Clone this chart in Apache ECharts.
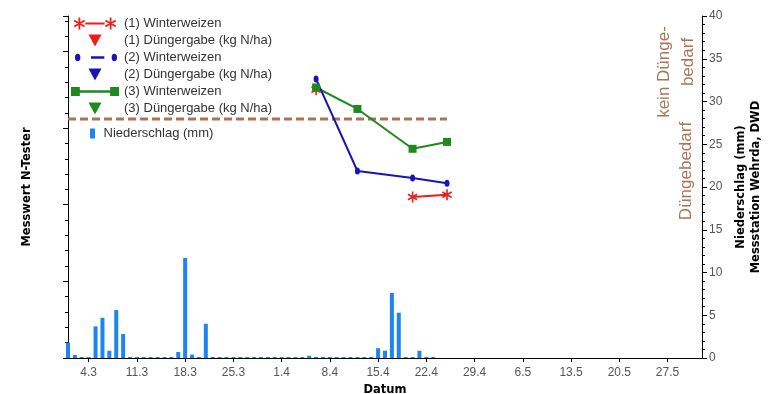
<!DOCTYPE html>
<html>
<head>
<meta charset="utf-8">
<script src="https://cdn.jsdelivr.net/npm/echarts@6/dist/echarts.min.js"></script>
<style>
  html, body { margin: 0; padding: 0; background: #fff; }
  #main { width: 773px; height: 394px; }
</style>
</head>
<body>
<div id="main"></div>
<script>
// Kategorien: jeder Tag vom 1.3. bis 1.6.
const monate = [[3, 31], [4, 30], [5, 31], [6, 1]];
const datum = [];
monate.forEach(([m, n]) => {
  for (let d = 1; d <= n; d++) datum.push(d + "." + m);
});

// Niederschlag (mm), täglich ab 1.3.
const niederschlag = [
  1.8, 0.35, 0, 0, 3.7, 4.7, 0.85, 5.6, 2.8, 0,
  0, 0, 0, 0, 0, 0, 0.7, 11.7, 0.4, 0,
  4.0, 0, 0, 0, 0, 0, 0, 0, 0, 0,
  0, 0, 0, 0, 0, 0.27, 0, 0, 0, 0,
  0, 0, 0, 0, 0, 1.15, 0.85, 7.6, 5.3, 0,
  0, 0.85, 0, 0
];

// Messtermine N-Tester
const termine = ["6.4", "12.4", "20.4", "25.4"];
const weizen1 = [350, "-", 210, 213];
const weizen2 = [364, 244, 235, 228];
const weizen3 = [353, 325, 273, 282];

// Schwellenwert Düngebedarf
const schwelle = 312;
const schwelleVon = "1.3";
const schwelleBis = "25.4";

const ROT = "#ee1c1c";
const BLAU = "#1616b8";
const GRUEN = "#1e8a1e";
const REGEN = "#1b86ef";
const BRAUN = "#a87656";

// asterisk as filled path
function stern(cx, cy) {
  const pts = [
    [[-0.75, -5], [0.75, -5], [0.75, 5], [-0.75, 5]],
    [[3.955, -3.15], [4.705, -1.85], [-3.955, 3.15], [-4.705, 1.85]],
    [[-4.705, -1.85], [-3.955, -3.15], [4.705, 1.85], [3.955, 3.15]]
  ];
  return pts.map(r => "M" + r.map(p => (p[0] + cx).toFixed(3) + "," + (p[1] + cy).toFixed(3)).join("L") + "Z").join(" ");
}

const iconW1 = "path://" + stern(5, 5) + " M10,4.2h16v1.6h-16z " + stern(31, 5);
const iconW2 = "path://M3,3a2,2.8 0 1,0 4,0a2,2.8 0 1,0 -4,0z M15,2.1h10v1.8h-10z M30.5,3a2,2.8 0 1,0 4,0a2,2.8 0 1,0 -4,0z M0,0h0.01v6h-0.01z M35.99,0h0.01v6h-0.01z";
const iconW3 = "path://M0,0h7v7h-7z M7,2.5h24v2h-24z M31,0h7v7h-7z";
const iconD = "path://M0,0L13,0L6.5,12Z";
const iconN = "path://M0,0h5v10h-5z";

const chart = echarts.init(document.getElementById("main"));

const achsenFont = { fontFamily: "DejaVu Sans", fontWeight: "bold", fontSize: 11.5, color: "#000" };

const option = {
  animation: false,
  backgroundColor: "#fff",
  grid: { left: 68, right: 71, top: 16, bottom: 36, outerBoundsMode: "none", containLabel: false },
  legend: [
    {
      orient: "vertical",
      left: 71,
      top: 17,
      padding: 0,
      itemWidth: 48,
      itemHeight: 12,
      itemGap: 4,
      selectedMode: false,
      itemStyle: { borderWidth: 0, opacity: 1 },
      textStyle: { fontFamily: "Liberation Sans", fontSize: 13, color: "#333" },
      data: [
        { name: "(1) Winterweizen", icon: iconW1 },
        { name: "(1) Düngergabe (kg N/ha)", icon: iconD },
        { name: "(2) Winterweizen", icon: iconW2 },
        { name: "(2) Düngergabe (kg N/ha)", icon: iconD },
        { name: "(3) Winterweizen", icon: iconW3 },
        { name: "(3) Düngergabe (kg N/ha)", icon: iconD }
      ]
    },
    {
      orient: "vertical",
      left: 90,
      top: 127,
      padding: 0,
      itemWidth: 12,
      itemHeight: 10,
      selectedMode: false,
      itemStyle: { borderWidth: 0 },
      textStyle: { fontFamily: "Liberation Sans", fontSize: 13, color: "#333" },
      data: [{ name: "Niederschlag (mm)", icon: iconN }]
    }
  ],
  xAxis: {
    type: "category",
    data: datum,
    boundaryGap: false,
    name: "Datum",
    nameLocation: "middle",
    nameGap: 24,
    nameTextStyle: achsenFont,
    axisLine: { lineStyle: { color: "#000", width: 1 } },
    axisTick: {
      length: 4,
      interval: (i) => (i - 3) % 7 === 0,
      lineStyle: { color: "#000" }
    },
    axisLabel: {
      interval: (i) => (i - 3) % 7 === 0,
      color: "#555",
      fontSize: 12,
      fontFamily: "Liberation Sans",
      margin: 9
    },
    splitLine: { show: false }
  },
  yAxis: [
    {
      type: "value",
      position: "left",
      min: 0,
      max: 446.3,
      interval: 100,
      name: "Messwert N-Tester",
      nameLocation: "middle",
      nameGap: 35,
      nameTextStyle: achsenFont,
      axisLine: { show: true, lineStyle: { color: "#000" } },
      axisTick: { show: true, length: 5, lineStyle: { color: "#000" } },
      minorTick: { show: true, splitNumber: 5, length: 3, lineStyle: { color: "#000" } },
      axisLabel: { show: false },
      splitLine: { show: false }
    },
    {
      type: "value",
      position: "right",
      min: 0,
      max: 40,
      interval: 5,
      name: "Niederschlag (mm)\nMessstation Wehrda, DWD",
      nameLocation: "middle",
      nameGap: 31,
      nameTextStyle: Object.assign({ lineHeight: 15 }, achsenFont),
      axisLine: { show: true, lineStyle: { color: "#000" } },
      axisTick: { show: true, length: 5, lineStyle: { color: "#000" } },
      minorTick: { show: true, splitNumber: 5, length: 3, lineStyle: { color: "#000" } },
      axisLabel: { color: "#555", fontSize: 12, fontFamily: "Liberation Sans", margin: 7 },
      splitLine: { show: false }
    }
  ],
  graphic: [
    {
      type: "text", x: 664, y: 72, rotation: Math.PI / 2,
      style: { text: "kein Dünge-", fill: BRAUN, font: "17px Liberation Sans", align: "center", verticalAlign: "middle" }
    },
    {
      type: "text", x: 688, y: 62, rotation: Math.PI / 2,
      style: { text: "bedarf", fill: BRAUN, font: "17px Liberation Sans", align: "center", verticalAlign: "middle" }
    },
    {
      type: "text", x: 686, y: 171, rotation: Math.PI / 2,
      style: { text: "Düngebedarf", fill: BRAUN, font: "17px Liberation Sans", align: "center", verticalAlign: "middle" }
    }
  ],
  series: [
    {
      name: "Niederschlag (mm)",
      type: "bar",
      yAxisIndex: 1,
      data: niederschlag,
      barWidth: 4,
      barMinHeight: 1,
      clip: false,
      itemStyle: { color: REGEN },
      emphasis: { disabled: true }
    },
    {
      name: "Schwelle",
      type: "line",
      data: [[schwelleVon, schwelle], [schwelleBis, schwelle]],
      symbol: "none",
      lineStyle: { color: BRAUN, width: 3, type: [8, 4] },
      emphasis: { disabled: true },
      z: 1
    },
    {
      name: "(1) Winterweizen",
      type: "line",
      data: termine.map((t, i) => [t, weizen1[i]]),
      symbol: "path://" + stern(5, 5),
      symbolSize: [10, 11],
      showAllSymbol: true,
      itemStyle: { color: ROT },
      lineStyle: { color: ROT, width: 2 },
      emphasis: { disabled: true }
    },
    {
      name: "(3) Winterweizen",
      type: "line",
      data: termine.map((t, i) => [t, weizen3[i]]),
      symbol: "rect",
      symbolSize: 8,
      showAllSymbol: true,
      itemStyle: { color: GRUEN },
      lineStyle: { color: GRUEN, width: 2 },
      emphasis: { disabled: true }
    },
    {
      name: "(2) Winterweizen",
      type: "line",
      data: termine.map((t, i) => [t, weizen2[i]]),
      symbol: "circle",
      symbolSize: [5, 7],
      showAllSymbol: true,
      itemStyle: { color: BLAU },
      lineStyle: { color: BLAU, width: 2 },
      emphasis: { disabled: true }
    },
    { name: "(1) Düngergabe (kg N/ha)", type: "scatter", data: [], itemStyle: { color: ROT, opacity: 1 } },
    { name: "(2) Düngergabe (kg N/ha)", type: "scatter", data: [], itemStyle: { color: BLAU, opacity: 1 } },
    { name: "(3) Düngergabe (kg N/ha)", type: "scatter", data: [], itemStyle: { color: GRUEN, opacity: 1 } }
  ]
};

chart.setOption(option);
</script>
</body>
</html>
